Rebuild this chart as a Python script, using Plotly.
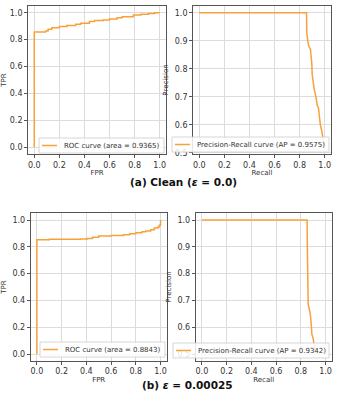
import plotly.graph_objects as go

# ---- data ----
roc_a_fpr = [0, 0, 0.09, 0.11, 0.14, 0.20, 0.26, 0.33, 0.37, 0.44, 0.48, 0.55, 0.60, 0.66, 0.70, 0.79, 0.85, 0.91, 0.96, 1.0]
roc_a_tpr = [0, 0.856, 0.865, 0.878, 0.888, 0.898, 0.905, 0.915, 0.922, 0.934, 0.942, 0.946, 0.954, 0.962, 0.970, 0.983, 0.988, 0.995, 1.0, 1.0]
roc_a_label = "ROC curve (area = 0.9365)"

pr_a_recall = [0, 0.855, 0.857, 0.862, 0.866, 0.874, 0.878, 0.886, 0.890, 0.897, 0.900, 0.908, 0.915, 0.930, 0.940, 0.950, 0.957, 0.965, 0.975, 0.985, 0.990, 0.995, 1.0]
pr_a_precision = [1.0, 1.0, 0.93, 0.905, 0.895, 0.88, 0.875, 0.87, 0.85, 0.82, 0.78, 0.75, 0.73, 0.70, 0.67, 0.66, 0.62, 0.60, 0.58, 0.56, 0.55, 0.53, 0.52]
pr_a_label = "Precision-Recall curve (AP = 0.9575)"

roc_b_fpr = [0, 0, 0.10, 0.20, 0.35, 0.41, 0.45, 0.50, 0.60, 0.70, 0.75, 0.80, 0.85, 0.88, 0.92, 0.95, 0.98, 0.99, 1.0, 1.0]
roc_b_tpr = [0, 0.853, 0.856, 0.857, 0.858, 0.862, 0.872, 0.880, 0.885, 0.890, 0.897, 0.905, 0.912, 0.918, 0.928, 0.940, 0.948, 0.960, 0.975, 1.0]
roc_b_label = "ROC curve (area = 0.8843)"

pr_b_recall = [0, 0.851, 0.853, 0.856, 0.860, 0.869, 0.877, 0.883, 0.890, 0.899, 0.905, 0.912, 0.920]
pr_b_precision = [1.0, 1.0, 0.90, 0.80, 0.685, 0.666, 0.648, 0.62, 0.573, 0.56, 0.545, 0.53, 0.50]
pr_b_label = "Precision-Recall curve (AP = 0.9342)"

captions = ["<b>(a) Clean (<i>ε</i> = 0.0)</b>", "<b>(b) <i>ε</i> = 0.00025</b>"]

# ---- style ----
W, H = 341, 408
ORANGE = "#f7a13a"
TXT = "#333333"
FRAME = "#555555"
GRID = "#dcdcdc"

def px(x):
    return x / W

def py(y):
    return 1 - y / H

fig = go.Figure()

panels = [
    ("x", "y", roc_a_fpr, roc_a_tpr, "hv", (28, 166), (6, 154), [-0.05, 1.05], 0.2, "FPR", "TPR"),
    ("x2", "y2", pr_a_recall, pr_a_precision, "linear", (193, 331), (6, 154), [0.496, 1.024], 0.1, "Recall", "Precision"),
    ("x3", "y3", roc_b_fpr, roc_b_tpr, "hv", (30.7, 166.7), (213.3, 360.7), [-0.05, 1.05], 0.2, "FPR", "TPR"),
    ("x4", "y4", pr_b_recall, pr_b_precision, "linear", (195.7, 331.7), (213.3, 360.7), [0.475, 1.025], 0.1, "Recall", "Precision"),
]

for i, (xa, ya, xd, yd, shape, xdom, ydom, yr, dty, xt, yt) in enumerate(panels):
    fig.add_trace(go.Scatter(x=xd, y=yd, mode="lines", xaxis=xa, yaxis=ya,
                             line=dict(color=ORANGE, width=1.5, shape=shape),
                             showlegend=False, hoverinfo="skip"))
    suffix = "" if i == 0 else str(i + 1)
    common = dict(showline=True, linecolor=FRAME, linewidth=0.8, mirror=True,
                  showgrid=True, gridcolor=GRID, gridwidth=0.8, zeroline=False,
                  ticks="outside", ticklen=3, tickwidth=0.8, tickcolor=FRAME,
                  tickfont=dict(family="DejaVu Sans", size=8, color=TXT),
                  tickformat=".1f", automargin=False)
    fig.layout["xaxis" + suffix] = dict(
        domain=[px(xdom[0]), px(xdom[1])], anchor=ya, range=[-0.05, 1.05],
        dtick=0.2, tick0=0,
        title=dict(text=xt, font=dict(family="DejaVu Sans", size=7, color=TXT), standoff=1),
        **common)
    fig.layout["yaxis" + suffix] = dict(
        domain=[py(ydom[1]), py(ydom[0])], anchor=xa, range=yr,
        dtick=dty, tick0=0,
        title=dict(text=yt, font=dict(family="DejaVu Sans", size=7, color=TXT), standoff=5),
        **common)

# ---- legends (drawn manually to match compact matplotlib legends) ----
legends = [
    ((39, 138, 164, 153), (42, 57), 62, roc_a_label),
    ((172, 137, 329, 152), (175, 190), 195, pr_a_label),
    ((40, 342, 165, 357), (43, 58), 63, roc_b_label),
    ((173, 343, 329, 358), (176, 191), 196, pr_b_label),
]
for (bx0, by0, bx1, by1), (lx0, lx1), tx, label in legends:
    fig.add_shape(type="rect", xref="paper", yref="paper",
                  x0=px(bx0), x1=px(bx1), y0=py(by1), y1=py(by0),
                  fillcolor="rgba(255,255,255,0.85)", line=dict(color="#cccccc", width=0.8),
                  layer="above")
    yc = (by0 + by1) / 2
    fig.add_shape(type="line", xref="paper", yref="paper",
                  x0=px(lx0), x1=px(lx1), y0=py(yc), y1=py(yc),
                  line=dict(color=ORANGE, width=1.5), layer="above")
    fig.add_annotation(text=label, xref="paper", yref="paper", x=px(tx), y=py(yc),
                       xanchor="left", yanchor="middle", showarrow=False,
                       font=dict(family="DejaVu Sans", size=7, color=TXT))

# ---- captions ----
fig.add_annotation(text=captions[0], xref="paper", yref="paper", x=px(183), y=py(182),
                   xanchor="center", yanchor="middle", showarrow=False,
                   font=dict(family="DejaVu Sans", size=10.5, color="#111111"))
fig.add_annotation(text=captions[1], xref="paper", yref="paper", x=px(188), y=py(385),
                   xanchor="center", yanchor="middle", showarrow=False,
                   font=dict(family="DejaVu Sans", size=10.5, color="#111111"))

fig.update_layout(width=W, height=H, margin=dict(l=0, r=0, t=0, b=0),
                  paper_bgcolor="white", plot_bgcolor="white", showlegend=False)

fig.write_html("out.html", config={"displayModeBar": False},
               post_script="document.body.style.margin='0';document.body.style.overflow='hidden';")
